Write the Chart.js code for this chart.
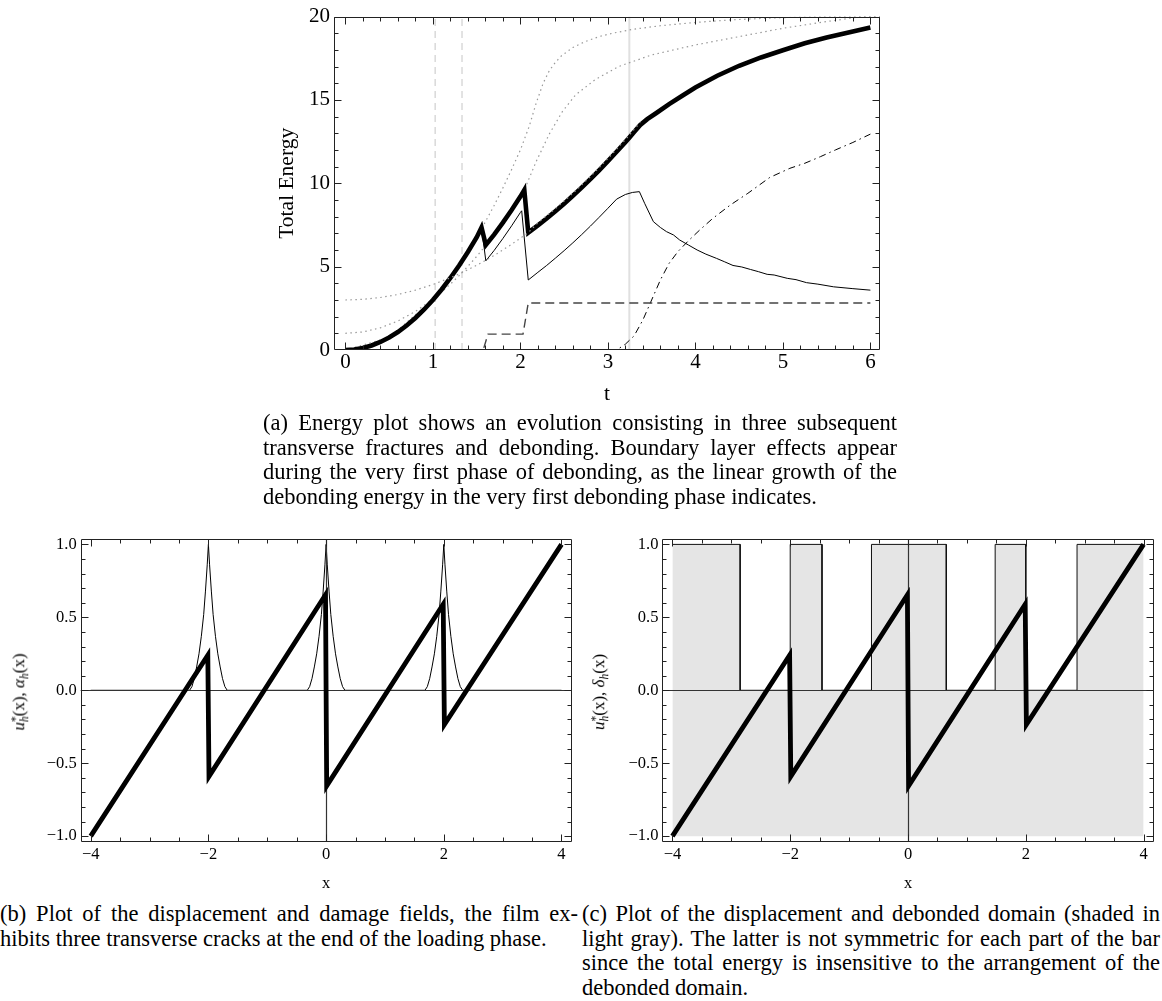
<!DOCTYPE html>
<html><head><meta charset="utf-8">
<script src="https://cdn.jsdelivr.net/npm/chart.js@4.4.1/dist/chart.umd.min.js"></script>
<style>
html,body{margin:0;padding:0;background:#fff;}
body{width:1162px;height:1001px;position:relative;overflow:hidden;font-family:"Liberation Serif","Times New Roman",serif;color:#000;}
canvas{position:absolute;}
.cap{position:absolute;font-size:22.5px;line-height:24.5px;}
.cap div{text-align:justify;text-align-last:justify;}
.cap div.last{text-align:left;text-align-last:left;}
.ytitle{position:absolute;transform:translate(-50%,-50%) rotate(-90deg);white-space:nowrap;font-size:17px;line-height:17px;}
.ss{display:inline-block;vertical-align:-4px;font-size:11.5px;line-height:9.5px;text-align:left;}
.ss span{display:block;}
</style>
</head><body>
<canvas id="energy" width="1162" height="410" style="left:0;top:0;width:1162px;height:410px"></canvas>
<canvas id="damage" width="581" height="400" style="left:0;top:500px;width:581px;height:400px"></canvas>
<canvas id="debond" width="581" height="400" style="left:581px;top:500px;width:581px;height:400px"></canvas>

<div class="ytitle" style="left:20px;top:692px"><i>u</i><span class="ss"><span>*</span><span><i>h</i></span></span>(x), <i>α</i><span class="ss"><span>&nbsp;</span><span><i>h</i></span></span>(x)</div>
<div class="ytitle" style="left:600px;top:692px"><i>u</i><span class="ss"><span>*</span><span><i>h</i></span></span>(x), <i>δ</i><span class="ss"><span>&nbsp;</span><span><i>h</i></span></span>(x)</div>

<div class="cap" style="left:263px;top:411px;width:634px">
<div>(a) Energy plot shows an evolution consisting in three subsequent</div>
<div>transverse fractures and debonding. Boundary layer effects appear</div>
<div>during the very first phase of debonding, as the linear growth of the</div>
<div class="last">debonding energy in the very first debonding phase indicates.</div>
</div>
<div class="cap" style="left:0px;top:902px;width:578px">
<div>(b) Plot of the displacement and damage fields, the film ex-</div>
<div class="last">hibits three transverse cracks at the end of the loading phase.</div>
</div>
<div class="cap" style="left:582px;top:902px;width:578px">
<div>(c) Plot of the displacement and debonded domain (shaded in</div>
<div>light gray). The latter is not symmetric for each part of the bar</div>
<div>since the total energy is insensitive to the arrangement of the</div>
<div class="last">debonded domain.</div>
</div>

<script>
// ---------- data: energy evolution (panel a) ----------
const energyTicksT = [0,1,2,3,4,5,6];
const energyTickLabelsT = ["0","1","2","3","4","5","6"];
const energyTicksE = [0,5,10,15,20];
const energyTickLabelsE = ["0","5","10","15","20"];

const totalT = [0,0.1,0.2,0.3,0.4,0.5,0.6,0.7,0.8,0.9,1.0,1.1,1.2,1.3,1.4,1.5,1.556,1.605,1.7,1.8,1.9,2.0,2.045,2.09,2.2,2.3,2.4,2.5,2.6,2.7,2.8,2.9,3.0,3.1,3.2,3.25,3.3,3.37,3.45,3.55,3.7,3.85,4.0,4.25,4.5,4.75,5.0,5.25,5.5,5.75,6.0];
const totalE = [0,0.03,0.12,0.27,0.48,0.75,1.08,1.47,1.92,2.43,3.0,3.63,4.32,5.07,5.88,6.75,7.35,6.3,6.92,7.64,8.4,9.2,9.6,7.04,7.48,7.89,8.33,8.78,9.25,9.74,10.25,10.78,11.33,11.89,12.47,12.77,13.08,13.5,13.85,14.2,14.75,15.25,15.75,16.45,17.05,17.55,17.98,18.4,18.75,19.05,19.35];

const elasticT = [0,0.1,0.2,0.3,0.4,0.5,0.6,0.7,0.8,0.9,1.0,1.1,1.2,1.3,1.4,1.5,1.556,1.605,1.7,1.8,1.9,2.0,2.015,2.09,2.2,2.3,2.4,2.5,2.6,2.7,2.8,2.9,3.0,3.1,3.2,3.28,3.36,3.42,3.52,3.6,3.67,3.75,3.82,3.92,4.02,4.12,4.24,4.33,4.43,4.53,4.63,4.72,4.82,4.9,5.05,5.15,5.27,5.4,5.58,5.8,6.0];
const elasticE = [0,0.03,0.12,0.27,0.48,0.75,1.08,1.47,1.92,2.43,3.0,3.63,4.32,5.07,5.88,6.75,7.35,5.35,5.97,6.69,7.45,8.25,8.35,4.2,4.66,5.07,5.51,5.96,6.43,6.92,7.43,7.96,8.5,9.05,9.33,9.45,9.5,8.8,7.7,7.35,7.1,6.9,6.6,6.3,6.0,5.75,5.5,5.3,5.07,4.98,4.83,4.7,4.54,4.5,4.3,4.22,4.04,3.95,3.79,3.68,3.59];

const crackT = [0,1.575,1.63,2.03,2.09,6.0];
const crackE = [0,0,0.95,0.95,2.82,2.82];

const debondT = [0,3.1,3.2,3.3,3.4,3.5,3.6,3.7,3.8,3.92,4.05,4.2,4.4,4.6,4.85,5.08,5.25,5.43,5.6,5.8,6.0];
const debondE = [0,0,0.35,0.85,1.8,3.0,4.2,5.2,5.9,6.55,7.2,7.9,8.7,9.4,10.35,10.9,11.2,11.6,12.0,12.45,12.95];

const bound0T = [0,0.5,1.0,1.3,1.556,1.7,1.8,1.9,2.0,2.1,2.18,2.26,2.33,2.4,2.47,2.6,2.74,2.9,3.05,3.3,3.6,4.0,4.4,4.8,5.2,5.5,6.11];
const bound0E = [0,0.75,3.0,5.07,7.26,8.67,9.72,10.83,12.0,13.4,14.8,16.0,16.75,17.25,17.65,18.15,18.5,18.8,19.0,19.25,19.45,19.65,19.8,19.9,19.97,20.0,20.0];

const bound1T = [0,0.2,0.4,0.6,0.8,1.0,1.1,1.2,1.3,1.4,1.5,1.605,1.7,1.8,1.9,2.045,2.18,2.33,2.48,2.63,2.85,3.12,3.5,4.0,4.5,5.0,5.5,5.9,6.11];
const bound1E = [1.0,1.08,1.33,1.74,2.31,3.05,3.48,3.95,4.46,5.02,5.61,6.28,6.92,7.64,8.4,9.6,11.3,12.95,14.3,15.3,16.2,17.0,17.7,18.3,18.8,19.3,19.7,20.0,20.0];

const bound3T = [0,0.2,0.4,0.6,0.8,1.0,1.2,1.333,1.5,1.7,1.9,2.09,2.2,2.4,2.6,2.8,3.0,3.2,3.37];
const bound3E = [3.0,3.04,3.15,3.33,3.59,3.93,4.33,4.64,5.08,5.67,6.34,7.04,7.63,8.48,9.4,10.4,11.48,12.62,13.65];

const markerDashedT = [1.026,1.333];
const markerSolidT = [3.245];
const markerSpanE = [0,20];

// ---------- data: fields (panels b, c) ----------
const fieldTicksX = [-4,-2,0,2,4];
const fieldTickLabelsX = ["−4","−2","0","2","4"];
const fieldTicksY = [-1,-0.5,0,0.5,1];
const fieldTickLabelsY = ["−1.0","−0.5","0.0","0.5","1.0"];

const dispX = [-4,-2.01,-1.99,-0.01,0.01,1.99,2.01,4];
const dispY = [-1.0,0.24,-0.59,0.655,-0.655,0.59,-0.235,1.0];

const damageX = [-4,
 -2.32,-2.28,-2.24,-2.2,-2.16,-2.12,-2.08,-2.05,-2.02,-2.0,-1.98,-1.95,-1.92,-1.88,-1.84,-1.8,-1.76,-1.72,-1.68,
 -0.32,-0.28,-0.24,-0.2,-0.16,-0.12,-0.08,-0.05,-0.02,0,0.02,0.05,0.08,0.12,0.16,0.2,0.24,0.28,0.32,
 1.68,1.72,1.76,1.8,1.84,1.88,1.92,1.95,1.98,2.0,2.02,2.05,2.08,2.12,2.16,2.2,2.24,2.28,2.32,
 4];
const damageY = [0,
 0,0.025,0.08,0.16,0.25,0.37,0.52,0.68,0.86,1,0.86,0.68,0.52,0.37,0.25,0.16,0.08,0.025,0,
 0,0.025,0.08,0.16,0.25,0.37,0.52,0.68,0.86,1,0.86,0.68,0.52,0.37,0.25,0.16,0.08,0.025,0,
 0,0.025,0.08,0.16,0.25,0.37,0.52,0.68,0.86,1,0.86,0.68,0.52,0.37,0.25,0.16,0.08,0.025,0,
 0];

const debondedX = [-4,-2.85,-2.85,-2.0,-2.0,-1.46,-1.46,-0.62,-0.62,0.65,0.65,1.48,1.48,2.0,2.0,2.87,2.87,4];
const debondedY = [1,1,0,0,1,1,0,0,1,1,0,0,1,1,0,0,1,1];
const shadeBase = -1;

// ---------- helpers ----------
const pts = (xs, ys) => xs.map((x, i) => ({x: x, y: ys[i]}));
const vline = (t) => [{x: t, y: markerSpanE[0]}, {x: t, y: markerSpanE[1]}];
function steps(a, b, s) { const out = []; const n = Math.round((b - a) / s); for (let i = 0; i <= n; i++) out.push(+(a + i * s).toFixed(6)); return out; }

const serif = "'Liberation Serif','Times New Roman',serif";
Chart.defaults.font.family = serif;
Chart.defaults.color = '#000';

const frameTicks = {
  id: 'frameTicks',
  afterDatasetDraw(chart, args, o) {
    if (o.axesAfter === undefined || args.index !== o.axesAfter) return;
    const {ctx, chartArea: a, scales: {x, y}} = chart;
    ctx.save();
    ctx.strokeStyle = '#333'; ctx.lineWidth = 1.2;
    ctx.beginPath();
    const py = Math.round(y.getPixelForValue(0)) + 0.5;
    const px = Math.round(x.getPixelForValue(0)) + 0.5;
    ctx.moveTo(a.left, py); ctx.lineTo(a.right, py);
    ctx.moveTo(px, a.top); ctx.lineTo(px, a.bottom);
    ctx.stroke(); ctx.restore();
  },
  afterDatasetsDraw(chart, args, o) {
    const {ctx, chartArea: a, scales: {x, y}} = chart;
    ctx.save();
    ctx.strokeStyle = '#222'; ctx.lineWidth = 1;
    const L = Math.round(a.left) + 0.5, R = Math.round(a.right) - 0.5, T = Math.round(a.top) + 0.5, B = Math.round(a.bottom) - 0.5;
    ctx.beginPath();
    ctx.rect(L, T, R - L, B - T);
    const tx = (vals, len) => vals.forEach(v => { const p = Math.round(x.getPixelForValue(v)) + 0.5; if (p < L || p > R) return; ctx.moveTo(p, B); ctx.lineTo(p, B - len); ctx.moveTo(p, T); ctx.lineTo(p, T + len); });
    const ty = (vals, len) => vals.forEach(v => { const p = Math.round(y.getPixelForValue(v)) + 0.5; if (p < T - 0.1 || p > B + 0.1) return; ctx.moveTo(L, p); ctx.lineTo(L + len, p); ctx.moveTo(R, p); ctx.lineTo(R - len, p); });
    tx(o.xMinor, 4); tx(o.xMajor, 7); ty(o.yMinor, 4); ty(o.yMajor, 7);
    ctx.stroke(); ctx.restore();
  }
};

const base = (w, extra) => Object.assign({showLine: true, pointRadius: 0, pointHoverRadius: 0, fill: false, tension: 0, borderWidth: w, borderJoinStyle: 'miter'}, extra);

function axisCfg(min, max, ticks, labels, size, fit, title, pad) {
  return {
    type: 'linear', min: min, max: max,
    grid: {display: false, drawTicks: false}, border: {display: false},
    afterBuildTicks: s => { s.ticks = ticks.map(v => ({value: v})); },
    afterFit: fit,
    ticks: {font: {size: size, family: serif}, color: '#000', padding: pad, autoSkip: false, maxRotation: 0, minRotation: 0, callback: (v, i) => labels[i]},
    title: title
  };
}

// ---------- panel (a) ----------
new Chart(document.getElementById('energy'), {
  type: 'scatter',
  data: {datasets: [
    base(1.2, {data: vline(markerDashedT[0]), borderColor: '#cfcfcf', borderDash: [7,5], order: 20}),
    base(1.2, {data: vline(markerDashedT[1]), borderColor: '#cfcfcf', borderDash: [7,5], order: 20}),
    base(2, {data: vline(markerSolidT[0]), borderColor: '#e0e0e0', order: 20}),
    base(1.2, {data: pts(bound0T, bound0E), borderColor: '#999', borderDash: [1.5,3.5], order: 15}),
    base(1.2, {data: pts(bound1T, bound1E), borderColor: '#999', borderDash: [1.5,3.5], order: 15}),
    base(1.4, {data: pts(crackT, crackE), borderColor: '#444', borderDash: [9,5], order: 8}),
    base(1, {data: pts(debondT, debondE), borderColor: '#000', borderDash: [7,4,1.5,4], order: 8}),
    base(1, {data: pts(elasticT, elasticE), borderColor: '#000', order: 6}),
    base(4.6, {data: pts(totalT, totalE), borderColor: '#000', order: 3}),
    base(1.2, {data: pts(bound3T, bound3E), borderColor: '#999', borderDash: [1.5,3.5], order: 1})
  ]},
  options: {
    responsive: false, animation: false, events: [],
    layout: {padding: {left: 254, right: 282, top: 12, bottom: 0}},
    plugins: {legend: {display: false}, tooltip: {enabled: false},
      frameTicks: {xMajor: energyTicksT, xMinor: steps(0, 6, 0.2), yMajor: energyTicksE, yMinor: steps(0, 20, 1)}},
    scales: {
      x: axisCfg(-0.13, 6.11, energyTicksT, energyTickLabelsT, 21, s => { s.height = 60; },
        {display: true, text: 't', font: {size: 21.5, family: serif}, color: '#000', padding: {top: 0, bottom: 3.1}}, 0),
      y: axisCfg(0, 20, energyTicksE, energyTickLabelsE, 21, s => { s.width = 80; },
        {display: true, text: 'Total Energy', font: {size: 21.5, family: serif}, color: '#000', padding: {top: 20.1, bottom: 0}}, 4)
    }
  },
  plugins: [frameTicks]
});

// ---------- panels (b), (c) ----------
function fieldChart(id, datasets, axesAfter, padL, padR) {
  return new Chart(document.getElementById(id), {
    type: 'scatter',
    data: {datasets: datasets},
    options: {
      responsive: false, animation: false, events: [],
      layout: {padding: {left: padL, right: padR, top: 39.3, bottom: 0}},
      plugins: {legend: {display: false}, tooltip: {enabled: false},
        frameTicks: {axesAfter: axesAfter, xMajor: fieldTicksX, xMinor: steps(-4, 4, 0.5), yMajor: fieldTicksY, yMinor: steps(-1, 1, 0.1)}},
      scales: {
        x: axisCfg(-4.17, 4.17, fieldTicksX, fieldTickLabelsX, 16.5, s => { s.height = 58; },
          {display: true, text: 'x', font: {size: 16.5, family: serif}, color: '#000', padding: {top: 0, bottom: 6.4}}, 3),
        y: axisCfg(-1.04, 1.035, fieldTicksY, fieldTickLabelsY, 16.5, s => { s.width = 56; }, {display: false}, 4)
      }
    },
    plugins: [frameTicks]
  });
}

fieldChart('damage', [
  base(1, {data: pts(damageX, damageY), borderColor: '#000', order: 5}),
  base(4.8, {data: pts(dispX, dispY), borderColor: '#000', order: 1})
], 0, 24.7, 9.5);

fieldChart('debond', [
  base(1, {data: pts(debondedX, debondedY), borderColor: '#111', backgroundColor: '#e5e5e5', fill: {value: shadeBase}, order: 5}),
  base(4.8, {data: pts(dispX, dispY), borderColor: '#000', order: 1})
], 0, 25.4, 8.4);
</script>
</body></html>
